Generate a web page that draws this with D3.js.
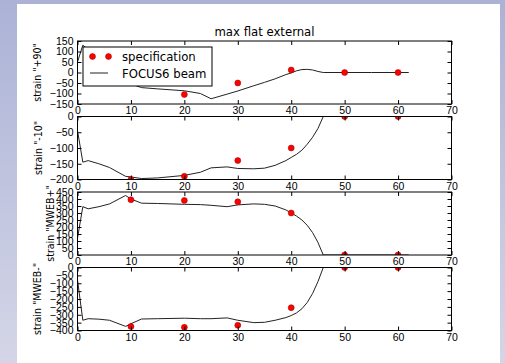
<!DOCTYPE html>
<html>
<head>
<meta charset="utf-8">
<script src="https://cdn.jsdelivr.net/npm/d3@7"></script>
<style>
  body { margin: 0; padding: 0; overflow: hidden; }
  svg { display: block; font-family: "DejaVu Sans Condensed", "DejaVu Sans", sans-serif; font-stretch: condensed; }
</style>
</head>
<body>
<svg id="chart" width="505" height="363"></svg>
<script>
// distance along the beam for the FOCUS6 curves
const beamX = [0, 1, 2, 4, 6, 9, 10, 12, 15, 20, 23, 25, 28, 30, 33, 35, 37, 39, 40, 41, 42, 43, 44, 45, 46, 50, 55, 60, 62];

const beam90 = [50, 130, 110, 60, 20, -40, -55, -72, -78, -87, -100, -125, -103, -88, -63, -47, -30, -10, -2, 8, 14, 15, 12, 5, 0, 0, 0, 0, 0];
const beam10 = [-45, -145, -140, -150, -162, -190, -192, -197, -195, -187, -177, -163, -160, -165, -166, -164, -155, -140, -130, -120, -107, -88, -66, -38, 0, 0, 0, 0, 0];
const beamPlus = [120, 345, 330, 345, 365, 425, 400, 370, 368, 362, 360, 355, 345, 358, 365, 362, 350, 322, 300, 278, 250, 212, 160, 90, 0, 0, 0, 0, 0];
const beamMinus = [-80, -335, -325, -328, -335, -374, -357, -327, -325, -322, -325, -325, -320, -335, -350, -348, -335, -318, -305, -288, -262, -222, -165, -90, 0, 0, 0, 0, 0];

// specification points
const specX = [10, 20, 30, 40, 50, 60];
const spec90 = [-20, -105, -50, 12, 0, 0];
const spec10 = [-200, -190, -140, -100, 0, 0];
const specPlus = [395, 390, 380, 300, 0, 0];
const specMinus = [-375, -380, -367, -255, 0, 0];

const xTicks = [0, 10, 20, 30, 40, 50, 60, 70];
const panels = [
  { label: 'strain "+90"', beam: beam90, spec: spec90, domain: [-150, 150], ticks: [-150, -100, -50, 0, 50, 100, 150], labelX: 41 },
  { label: 'strain "-10"', beam: beam10, spec: spec10, domain: [-200, 0], ticks: [-200, -150, -100, -50, 0], labelX: 41.5 },
  { label: 'strain "MWEB+"', beam: beamPlus, spec: specPlus, domain: [0, 450], ticks: [0, 50, 100, 150, 200, 250, 300, 350, 400, 450], labelX: 53.5 },
  { label: 'strain "MWEB-"', beam: beamMinus, spec: specMinus, domain: [-400, 0], ticks: [-400, -350, -300, -250, -200, -150, -100, -50, 0], labelX: 41 }
];

const size = { left: 77.5, width: 374, top: 41, height: 63, step: 75.5 };

const svg = d3.select('#chart');

// page background + white sheet
const defs = svg.append('defs');
const grad = defs.append('linearGradient').attr('id', 'bg').attr('x1', 0).attr('y1', 0).attr('x2', 0).attr('y2', 1);
grad.append('stop').attr('offset', '0%').attr('stop-color', '#abb2d6');
grad.append('stop').attr('offset', '100%').attr('stop-color', '#d4d6e7');
svg.append('rect').attr('width', 505).attr('height', 363).attr('fill', 'url(#bg)');
svg.append('rect').attr('x', 17).attr('y', 4).attr('width', 483).attr('height', 359).attr('fill', '#fff');

const x = d3.scaleLinear().domain([0, 70]).range([0, size.width]);

svg.append('text')
  .attr('x', size.left + size.width / 2)
  .attr('y', 36)
  .attr('text-anchor', 'middle')
  .attr('font-size', 13)
  .text('max flat external');

panels.forEach((p, i) => {
  const top = size.top + i * size.step;
  const y = d3.scaleLinear().domain(p.domain).range([size.height, 0]);

  const g = svg.append('g').attr('transform', `translate(${size.left},${top})`);

  defs.append('clipPath').attr('id', 'clip' + i)
    .append('rect').attr('width', size.width).attr('height', size.height);

  const plot = g.append('g').attr('clip-path', `url(#clip${i})`);

  const pts = beamX.map((d, j) => [d, p.beam[j]]);
  plot.append('path')
    .datum(pts)
    .attr('fill', 'none')
    .attr('stroke', '#222')
    .attr('stroke-width', 1)
    .attr('d', d3.line().x(d => x(d[0])).y(d => y(d[1])));

  plot.selectAll('circle')
    .data(specX.map((d, j) => [d, p.spec[j]]))
    .join('circle')
    .attr('cx', d => x(d[0]))
    .attr('cy', d => y(d[1]))
    .attr('r', 3)
    .attr('fill', '#f00')
    .attr('stroke', '#900')
    .attr('stroke-width', 0.5);

  // ticks on all four sides, pointing in
  const fmt = d3.format('d');
  const xb = g.append('g').attr('transform', `translate(0,${size.height})`)
    .call(d3.axisBottom(x).tickValues(xTicks).tickSize(-4).tickPadding(3).tickFormat(fmt));
  const xt = g.append('g')
    .call(d3.axisTop(x).tickValues(xTicks).tickSize(-4).tickFormat(''));
  const yl = g.append('g')
    .call(d3.axisLeft(y).tickValues(p.ticks).tickSize(-4).tickPadding(4).tickFormat(fmt));
  const yr = g.append('g').attr('transform', `translate(${size.width},0)`)
    .call(d3.axisRight(y).tickValues(p.ticks).tickSize(-4).tickFormat(''));

  [xb, xt, yl, yr].forEach(a => {
    a.select('.domain').remove();
    a.selectAll('.tick line').attr('stroke', '#000');
    a.selectAll('text').attr('fill', '#000').attr('font-size', 10.5).attr('font-family', null);
  });

  g.append('rect')
    .attr('width', size.width).attr('height', size.height)
    .attr('fill', 'none').attr('stroke', '#000').attr('stroke-width', 1);

  svg.append('text')
    .attr('transform', `translate(${p.labelX},${top + size.height / 2}) rotate(-90)`)
    .attr('text-anchor', 'middle')
    .attr('font-size', 10.5)
    .text(p.label);
});

// legend
const leg = svg.append('g').attr('transform', 'translate(83,47)');
leg.append('rect').attr('width', 129).attr('height', 39)
  .attr('fill', '#fff').attr('stroke', '#000').attr('stroke-width', 1);
leg.selectAll('circle').data([9.5, 25.5]).join('circle')
  .attr('cx', d => d).attr('cy', 9.5).attr('r', 3)
  .attr('fill', '#f00').attr('stroke', '#900').attr('stroke-width', 0.5);
leg.append('text').attr('x', 39).attr('y', 14).attr('font-size', 13).text('specification');
leg.append('line').attr('x1', 7).attr('x2', 25).attr('y1', 26).attr('y2', 26)
  .attr('stroke', '#222').attr('stroke-width', 1);
leg.append('text').attr('x', 39).attr('y', 30.5).attr('font-size', 13).text('FOCUS6 beam');
</script>
</body>
</html>
